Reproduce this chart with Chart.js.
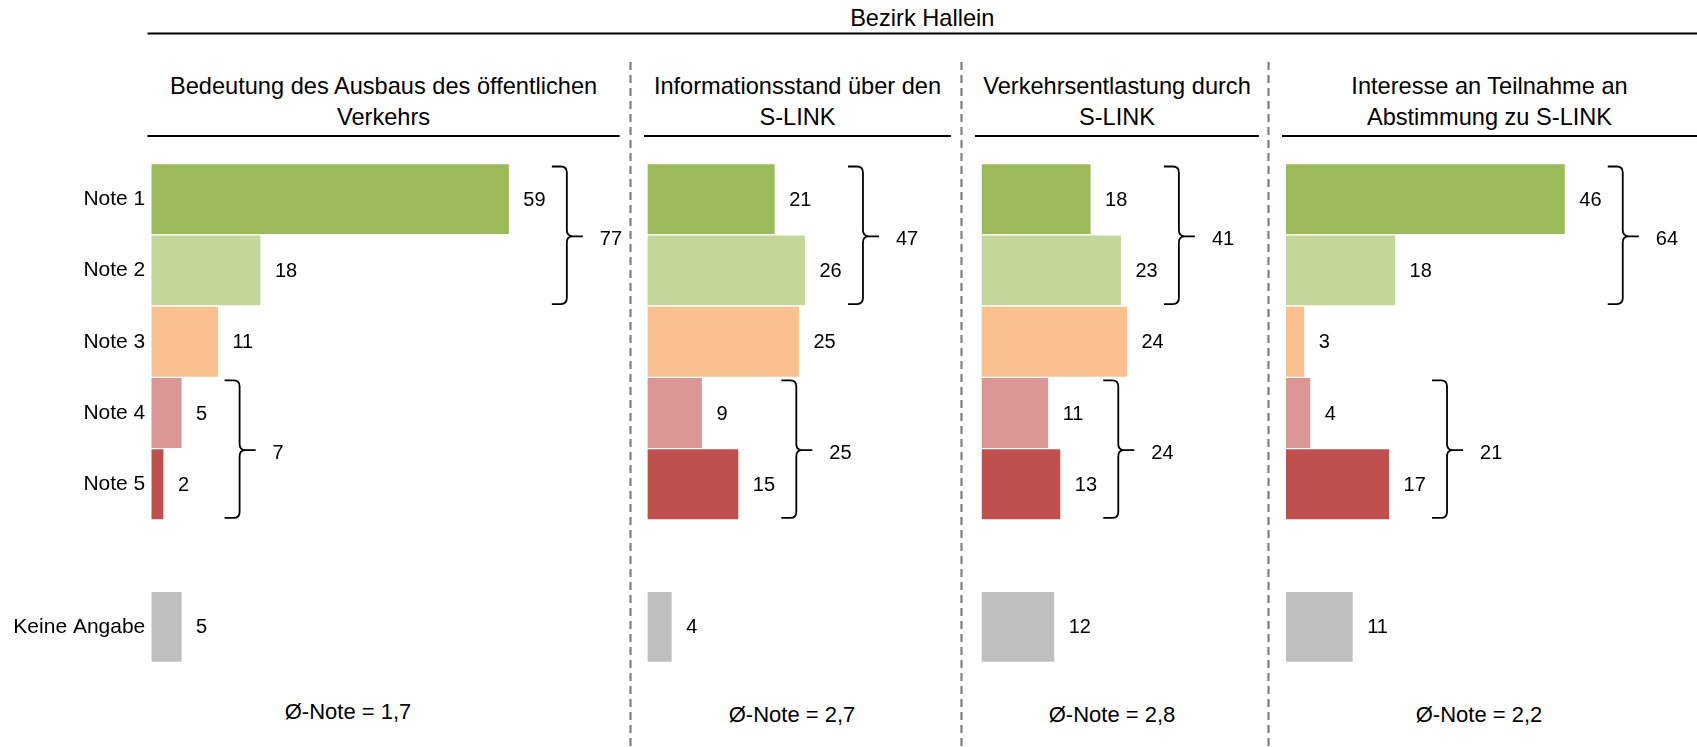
<!DOCTYPE html>
<html>
<head>
<meta charset="utf-8">
<script src="https://cdn.jsdelivr.net/npm/chart.js@4.4.1/dist/chart.umd.min.js"></script>
<style>
html,body{margin:0;padding:0;background:#fff;}
body{width:1697px;height:747px;position:relative;overflow:hidden;font-family:'Liberation Sans',Arial,sans-serif;color:#000;}
.abs{position:absolute;}
.title{position:absolute;text-align:center;font-size:23.6px;line-height:31px;white-space:nowrap;}
.avg{position:absolute;font-size:22px;line-height:26px;white-space:nowrap;transform:translateX(-50%);}
canvas{display:block;}
</style>
</head>
<body>
<svg id="deco" class="abs" width="1697" height="747" style="left:0;top:0"></svg>
<script>
// ---------------- data ----------------
const headerTitle = 'Bezirk Hallein';
const categories = ['Note 1', 'Note 2', 'Note 3', 'Note 4', 'Note 5', '', 'Keine Angabe'];
const bedeutung   = [59, 18, 11, 5, 2, null, 5];
const information = [21, 26, 25, 9, 15, null, 4];
const entlastung  = [18, 23, 24, 11, 13, null, 12];
const interesse   = [46, 18, 3, 4, 17, null, 11];
const topTotals    = [77, 47, 41, 64];   // Note 1 + Note 2
const bottomTotals = [7, 25, 24, 21];    // Note 4 + Note 5
const averages = ['1,7', '2,7', '2,8', '2,2'];
const titles = [
  ['Bedeutung des Ausbaus des öffentlichen', 'Verkehrs'],
  ['Informationsstand über den', 'S-LINK'],
  ['Verkehrsentlastung durch', 'S-LINK'],
  ['Interesse an Teilnahme an', 'Abstimmung zu S-LINK']
];
const barColors = ['#9BBB59', '#C4D79B', '#FAC090', '#DA9694', '#C0504D', 'rgba(0,0,0,0)', '#BFBFBF'];

// ---------------- layout ----------------
const FONT = "'Liberation Sans', Arial, sans-serif";
const PX_PER_UNIT = 6.06;
const CHART_TOP = 150, CHART_H = 530, PAD_TOP = 13.5, PAD_BOTTOM = 17.5;
const panels = [
  {values: bedeutung,   left: 0,    width: 630, plotLeft: 151.3, rule: [147.5, 619.6], avgCx: 348,  avgY: 712},
  {values: information, left: 631,  width: 330, plotLeft: 647.4, rule: [644, 951],     avgCx: 792,  avgY: 715},
  {values: entlastung,  left: 962,  width: 306, plotLeft: 981.5, rule: [975, 1259],    avgCx: 1112, avgY: 715},
  {values: interesse,   left: 1269, width: 428, plotLeft: 1286,  rule: [1282, 1697],   avgCx: 1479, avgY: 715}
];
const dividers = [630.5, 961.5, 1268.5];

// ---------------- decorations ----------------
const svg = document.getElementById('deco');
function line(x1, y1, x2, y2, stroke, w, dash) {
  const l = document.createElementNS('http://www.w3.org/2000/svg', 'line');
  l.setAttribute('x1', x1); l.setAttribute('y1', y1); l.setAttribute('x2', x2); l.setAttribute('y2', y2);
  l.setAttribute('stroke', stroke); l.setAttribute('stroke-width', w);
  if (dash) l.setAttribute('stroke-dasharray', dash);
  svg.appendChild(l);
}
line(147.5, 33.5, 1697, 33.5, '#000', 2);
dividers.forEach(x => line(x, 62, x, 747, '#7F7F7F', 2.2, '8 5'));

const head = document.createElement('div');
head.className = 'title';
head.style.left = '147.5px'; head.style.width = '1549.5px'; head.style.top = '3px';
head.textContent = headerTitle;
document.body.appendChild(head);

// ---------------- plugin: value labels + braces ----------------
const annotate = {
  id: 'annotate',
  afterDatasetsDraw(chart, args, opts) {
    const ctx = chart.ctx;
    const meta = chart.getDatasetMeta(0);
    const vals = chart.data.datasets[0].data;
    ctx.save();
    ctx.font = '20px ' + FONT;
    ctx.fillStyle = '#000';
    ctx.textBaseline = 'middle';
    ctx.textAlign = 'left';
    meta.data.forEach((bar, i) => {
      if (vals[i] == null) return;
      ctx.fillText(String(vals[i]), bar.x + 14.5, bar.y + 1);
    });
    const xs = chart.scales.x, ys = chart.scales.y;
    const rowH = ys.getPixelForValue(1) - ys.getPixelForValue(0);
    [[0, 1, opts.top], [3, 4, opts.bottom]].forEach(([a, b, total]) => {
      const tip = xs.getPixelForValue(Math.max(vals[a], vals[b])) + 43;
      const y0 = ys.getPixelForValue(a) - rowH / 2 + 3;
      const y1 = ys.getPixelForValue(b) + rowH / 2 - 2;
      const ym = (ys.getPixelForValue(a) + ys.getPixelForValue(b)) / 2 + 1.5;
      const sx = tip + 15, px = sx + 16, r = 6;
      ctx.beginPath();
      ctx.lineWidth = 1.8;
      ctx.strokeStyle = '#000';
      ctx.moveTo(tip, y0);
      ctx.lineTo(sx - r, y0);
      ctx.quadraticCurveTo(sx, y0, sx, y0 + r);
      ctx.lineTo(sx, ym - r);
      ctx.quadraticCurveTo(sx, ym, sx + r, ym);
      ctx.lineTo(px, ym);
      ctx.moveTo(sx + r, ym);
      ctx.quadraticCurveTo(sx, ym, sx, ym + r);
      ctx.lineTo(sx, y1 - r);
      ctx.quadraticCurveTo(sx, y1, sx - r, y1);
      ctx.lineTo(tip, y1);
      ctx.stroke();
      ctx.fillText(String(total), px + 17, ym + 3);
    });
    ctx.restore();
  }
};

// ---------------- panels ----------------
panels.forEach((p, k) => {
  // title
  const t = document.createElement('div');
  t.className = 'title';
  t.style.left = p.rule[0] + 'px';
  t.style.width = (p.rule[1] - p.rule[0]) + 'px';
  t.style.top = '70.5px';
  t.innerHTML = titles[k].join('<br>');
  document.body.appendChild(t);
  line(p.rule[0], 136, p.rule[1], 136, '#000', 2);

  // average
  const a = document.createElement('div');
  a.className = 'avg';
  a.style.left = p.avgCx + 'px';
  a.style.top = (p.avgY - 13) + 'px';
  a.textContent = 'Ø-Note = ' + averages[k];
  document.body.appendChild(a);

  // chart
  const holder = document.createElement('div');
  holder.className = 'abs';
  holder.style.left = p.left + 'px';
  holder.style.top = CHART_TOP + 'px';
  const cv = document.createElement('canvas');
  cv.width = p.width; cv.height = CHART_H;
  cv.style.width = p.width + 'px'; cv.style.height = CHART_H + 'px';
  holder.appendChild(cv);
  document.body.appendChild(holder);

  const offset = p.plotLeft - p.left;
  const xMax = (p.width - offset) / PX_PER_UNIT;
  const showY = k === 0;

  new Chart(cv, {
    type: 'bar',
    data: {
      labels: categories,
      datasets: [{
        data: p.values,
        backgroundColor: barColors,
        borderWidth: 0,
        barPercentage: 0.98,
        categoryPercentage: 1
      }]
    },
    options: {
      indexAxis: 'y',
      responsive: false,
      animation: false,
      devicePixelRatio: 1,
      layout: {padding: {top: PAD_TOP, bottom: PAD_BOTTOM, left: 0, right: 0}},
      plugins: {
        legend: {display: false},
        tooltip: {enabled: false},
        annotate: {top: topTotals[k], bottom: bottomTotals[k]}
      },
      scales: {
        x: {display: false, min: 0, max: xMax},
        y: {
          display: true,
          grid: {display: false, drawTicks: false},
          border: {display: false},
          ticks: {display: showY, color: '#000', font: {family: FONT, size: 21}, padding: 6},
          afterFit(scale) {
            scale.width = offset;
            scale.paddingTop = 0;
            scale.paddingBottom = 0;
          }
        }
      }
    },
    plugins: [annotate]
  });
});
</script>
</body>
</html>
